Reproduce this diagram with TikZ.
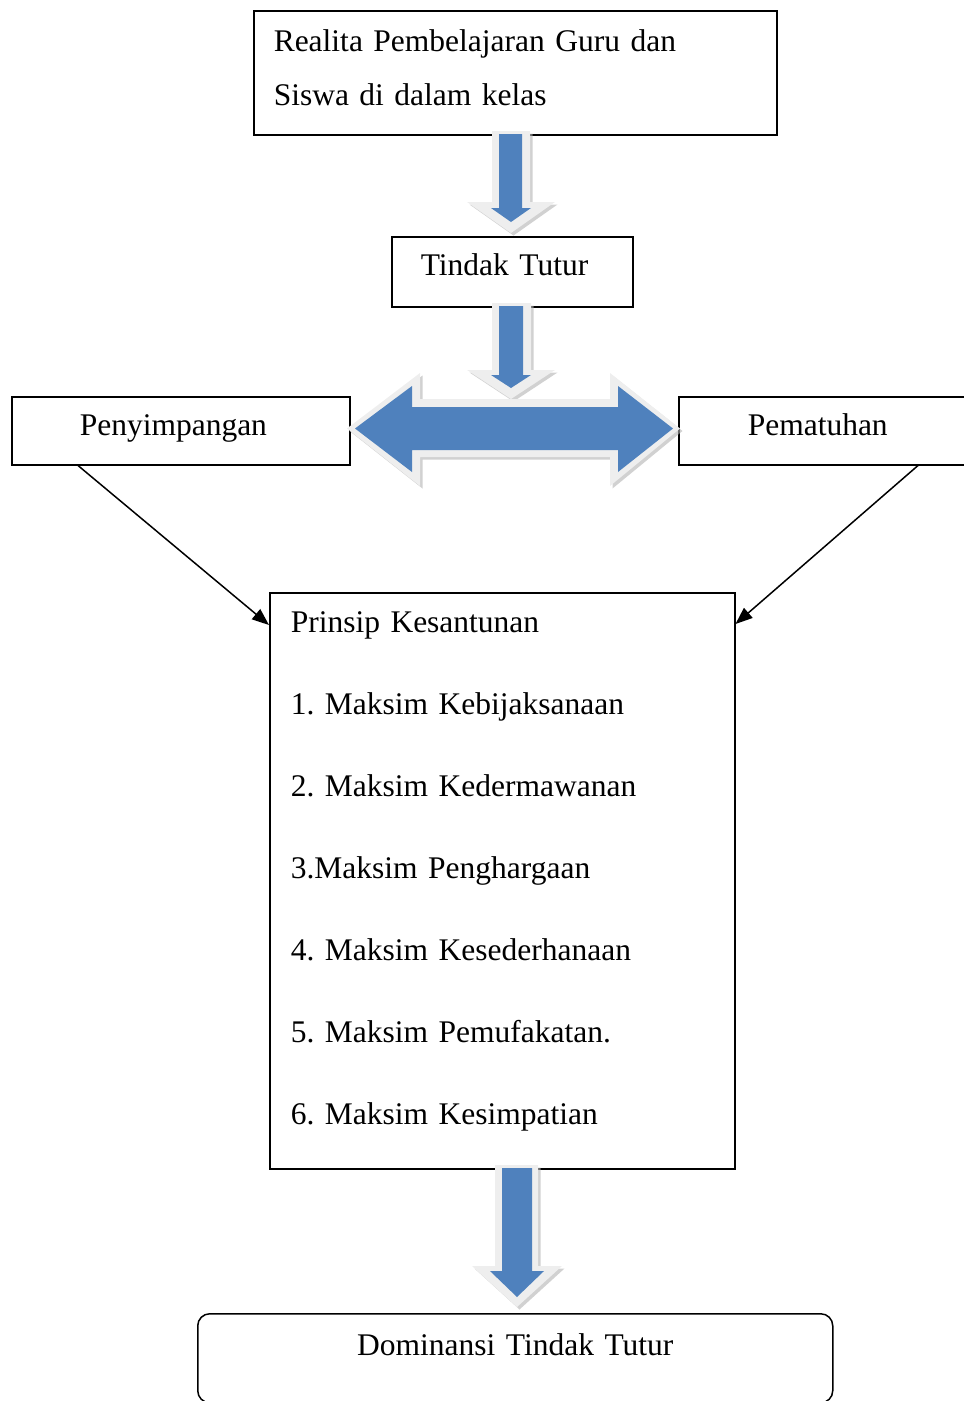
\documentclass[tikz,border=0pt]{standalone}
\usepackage{fontspec}
\setmainfont{Liberation Serif}
\usetikzlibrary{calc,arrows.meta}
\definecolor{arrowblue}{HTML}{4F81BD}
\definecolor{rimgrey}{HTML}{EEEEEE}
\newcommand{\topstr}[1]{\rule{0pt}{#1pt}}
\newcommand{\botstr}[1]{\rule[-#1pt]{0pt}{#1pt}}
\frenchspacing
\tikzset{
  box/.style={draw, line width=1.5pt, anchor=north west, inner ysep=0pt, align=left,
    font=\fontsize{31.5}{54}\selectfont},
  link/.style={line width=1.5pt, -{Triangle[length=17pt,width=13pt]}},
  rim/.style={fill=rimgrey, preaction={fill=gray!60, opacity=.6, transform canvas={shift={(2.5pt,-2.5pt)}}}},
  blue/.style={fill=arrowblue}
}
\begin{document}
\begin{tikzpicture}[x=1pt,y=-1pt]
\useasboundingbox (0,0) rectangle (964,1401);
% boxes
\node[box, inner xsep=20pt, text width=483pt] (realita) at (253,10) {\topstr{41}Realita Pembelajaran Guru dan\\Siswa di dalam kelas\botstr{29}};
\node[box, inner xsep=29pt, text width=183pt] (tindak) at (391,236) {\topstr{39}Tindak Tutur\botstr{31}};
\node[box, inner xsep=68pt, text width=202pt] (peny) at (11,396) {\topstr{39}Penyimpangan\botstr{29}};
\node[box, inner xsep=69pt, text width=250pt] (patuh) at (678,396) {\topstr{39}Pematuhan\botstr{29}};
\node[box, inner xsep=21pt, text width=423pt, font=\fontsize{31.5}{82}\selectfont] (prinsip) at (269,592) {\topstr{40}Prinsip Kesantunan\\1. Maksim Kebijaksanaan\\2. Maksim Kedermawanan\\3.Maksim Penghargaan\\4. Maksim Kesederhanaan\\5. Maksim Pemufakatan.\\6. Maksim Kesimpatian\botstr{44}};
\node[box, inner xsep=20pt, text width=595pt, align=center, rounded corners=12pt] (dominan) at (197,1313) {\topstr{42}Dominansi Tindak Tutur\botstr{47}};
% block arrows
\fill[rim] (492,131) -- (530,131) -- (530,202) -- (555,202) -- (511,233) -- (467,202) -- (492,202) -- cycle;
\fill[blue] (499,134) -- (522,134) -- (522,208) -- (531,208) -- (511,222) -- (491,208) -- (499,208) -- cycle;
\fill[rim] (492,303) -- (531,303) -- (531,370) -- (555,370) -- (511,399) -- (467,370) -- (492,370) -- cycle;
\fill[blue] (499,306) -- (523,306) -- (523,375) -- (531,375) -- (511,388) -- (491,375) -- (499,375) -- cycle;
\fill[rim] (347,428.5) -- (420,373) -- (420,399) -- (610,399) -- (610,373) -- (680,428.5) -- (610,486) -- (610,457) -- (420,457) -- (420,486) -- cycle;
\fill[blue] (355,428.5) -- (412,386) -- (412,407) -- (618,407) -- (618,386) -- (673,428.5) -- (618,472) -- (618,450) -- (412,450) -- (412,472) -- cycle;
\fill[rim] (495,1165) -- (538,1165) -- (538,1266) -- (562,1266) -- (517,1307) -- (472,1266) -- (495,1266) -- cycle;
\fill[blue] (502,1168) -- (532,1168) -- (532,1271) -- (544,1271) -- (517,1297) -- (490,1271) -- (502,1271) -- cycle;
% thin arrows
\draw[link] ($(peny.south west)+(67,0)$) -- ($(prinsip.north west)+(0,33)$);
\draw[link] ($(patuh.south west)+(240,0)$) -- ($(prinsip.north east)+(0,32)$);
\end{tikzpicture}
\end{document}
